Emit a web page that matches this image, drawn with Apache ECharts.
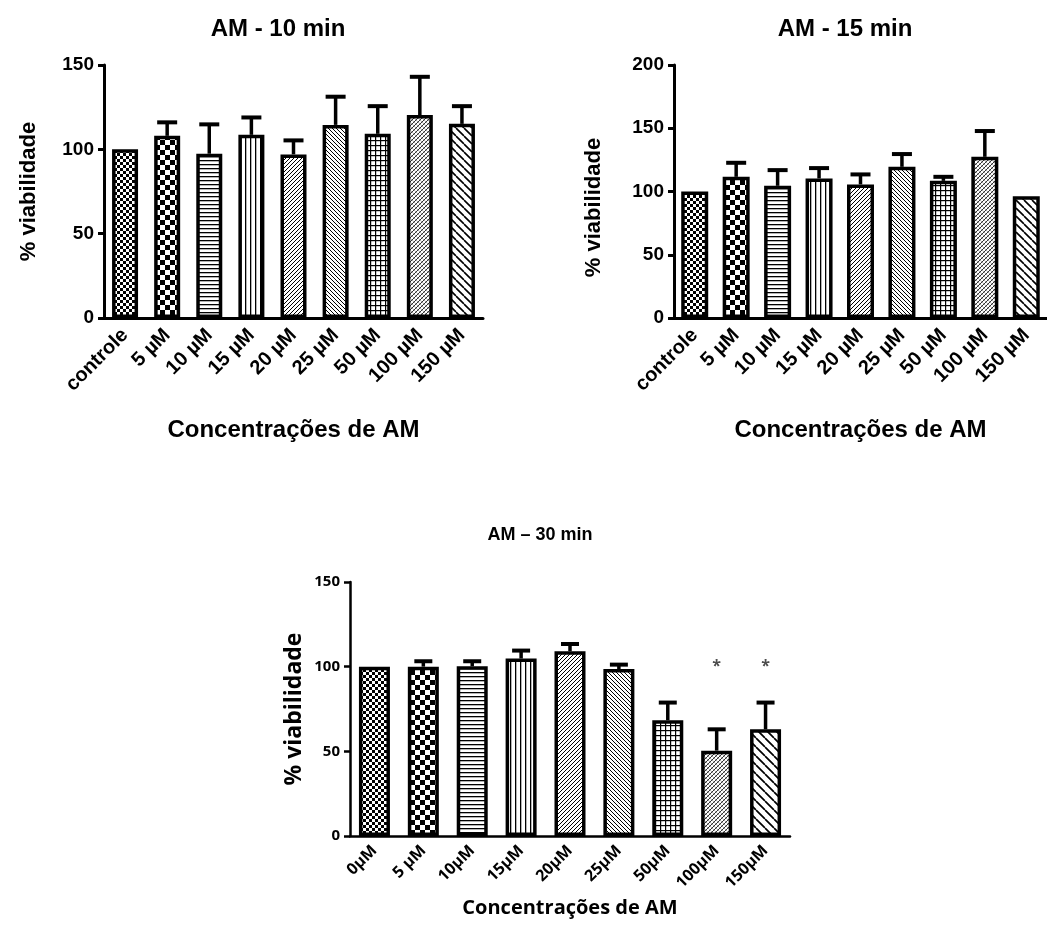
<!DOCTYPE html>
<html>
<head>
<meta charset="utf-8">
<script src="https://cdn.jsdelivr.net/npm/echarts@6/dist/echarts.min.js"></script>
<style>
  html, body { margin: 0; padding: 0; background: #fff; }
  #chart { width: 1047px; height: 931px; }
</style>
</head>
<body>
<div id="chart"></div>
<script>
// ---------- DATA ----------
const categorias10 = ['controle', '5 µM', '10 µM', '15 µM', '20 µM', '25 µM', '50 µM', '100 µM', '150 µM'];
const media10 = [100, 108, 97.4, 108.6, 97, 114.5, 109.2, 120.3, 115.1];
const erro10  = [0, 8, 17.4, 10.3, 8.3, 16.7, 16.4, 22.7, 10.5];

const categorias15 = ['controle', '5 µM', '10 µM', '15 µM', '20 µM', '25 µM', '50 µM', '100 µM', '150 µM'];
const media15 = [100, 111.6, 104.5, 110.3, 105.6, 119.5, 108.4, 127.4, 96.3];
const erro15  = [0, 11.1, 12.4, 8.2, 7.9, 10.1, 3.2, 20.4, 0];

const categorias30 = ['0µM', '5 µM', '10µM', '15µM', '20µM', '25µM', '50µM', '100µM', '150µM'];
const media30 = [100, 100, 100.2, 104.8, 109.1, 98.6, 68.3, 50.4, 63];
const erro30  = [0, 3.2, 3, 4.7, 4.3, 2.6, 10.5, 12.6, 15.8];
const significancia30 = ['', '', '', '', '', '', '', '*', '*'];
const alturaAsterisco = 100;

const ticksY10 = [0, 50, 100, 150];
const ticksY15 = [0, 50, 100, 150, 200];
const ticksY30 = [0, 50, 100, 150];

// ---------- PATTERNS (styles) ----------
function canvasPattern(w, h, draw) {
  const c = document.createElement('canvas');
  c.width = w; c.height = h;
  const ctx = c.getContext('2d');
  ctx.fillStyle = '#fff';
  ctx.fillRect(0, 0, w, h);
  draw(ctx, w, h);
  return { image: c, repeat: 'repeat' };
}
function diag(ctx, s, dir, lw, color) {
  ctx.strokeStyle = color || '#000';
  ctx.lineWidth = lw;
  ctx.beginPath();
  for (const k of [-s, 0, s]) {
    if (dir === 'down') { ctx.moveTo(k, 0); ctx.lineTo(k + s, s); }
    else { ctx.moveTo(k, s); ctx.lineTo(k + s, 0); }
  }
  ctx.stroke();
}
const padroes = [
  canvasPattern(6, 6, (ctx) => { ctx.fillStyle = '#000'; ctx.fillRect(0, 0, 3, 3); ctx.fillRect(3, 3, 3, 3); }),
  canvasPattern(10, 10, (ctx) => { ctx.fillStyle = '#000'; ctx.fillRect(0, 0, 5, 5); ctx.fillRect(5, 5, 5, 5); }),
  canvasPattern(4, 4, (ctx) => { ctx.fillStyle = '#000'; ctx.fillRect(0, 0, 4, 1.3); }),
  canvasPattern(5, 5, (ctx) => { ctx.fillStyle = '#000'; ctx.fillRect(0, 0, 1.3, 5); }),
  canvasPattern(4, 4, (ctx, w) => diag(ctx, w, 'up', 1, '#000')),
  canvasPattern(4, 4, (ctx, w) => diag(ctx, w, 'down', 1, '#000')),
  canvasPattern(5, 5, (ctx) => { ctx.fillStyle = '#000'; ctx.fillRect(0, 0, 5, 1.2); ctx.fillRect(0, 0, 1.2, 5); }),
  canvasPattern(4, 4, (ctx, w) => { diag(ctx, w, 'up', 1, '#333'); diag(ctx, w, 'down', 0.7, '#888'); }),
  canvasPattern(8, 8, (ctx, w) => diag(ctx, w, 'down', 1.6, '#000'))
];
const padroes30 = padroes.slice(0, 8).concat([
  canvasPattern(9, 9, (ctx, w) => diag(ctx, w, 'down', 1.7, '#000'))
]);

// ---------- HELPERS ----------
function barData(vals, pats) {
  return vals.map((v, i) => ({ value: v, itemStyle: { color: pats[i] } }));
}
function errData(vals, errs) {
  return vals.map((v, i) => [i, v, errs[i]]);
}
function errRender(capW, lw) {
  return function (params, api) {
    const x = api.value(0), m = api.value(1), e = api.value(2);
    if (!e) return;
    const p0 = api.coord([x, m]);
    const p1 = api.coord([x, m + e]);
    return {
      type: 'group',
      children: [
        { type: 'line', shape: { x1: p0[0], y1: p0[1], x2: p1[0], y2: p1[1] }, style: { stroke: '#000', lineWidth: lw } },
        { type: 'line', shape: { x1: p1[0] - capW / 2, y1: p1[1], x2: p1[0] + capW / 2, y2: p1[1] }, style: { stroke: '#000', lineWidth: lw + 0.5 } }
      ]
    };
  };
}

const fTop = 'Liberation Sans, Arial, sans-serif';
const fBot = 'Open Sans, Noto Sans, sans-serif';

function xAxisCfg(idx, cats, font, fs, lw, nameFs, nameGap, nameFont, margin) {
  return {
    type: 'category', gridIndex: idx, data: cats,
    axisLine: { lineStyle: { color: '#000', width: lw } },
    axisTick: { alignWithLabel: true, length: 6, lineStyle: { color: '#000', width: lw } },
    axisLabel: { interval: 0, rotate: 45, color: '#000', fontFamily: font, fontWeight: 'bold', fontSize: fs, margin: margin },
    name: 'Concentrações de AM', nameLocation: 'middle', nameGap: nameGap,
    nameTextStyle: { color: '#000', fontFamily: nameFont, fontWeight: 'bold', fontSize: nameFs }
  };
}
function yAxisCfg(idx, max, font, fs, lw, nameFs, nameGap, namePad) {
  return {
    type: 'value', gridIndex: idx, min: 0, max: max, interval: 50,
    axisLine: { show: true, lineStyle: { color: '#000', width: lw } },
    axisTick: { show: true, length: 6, lineStyle: { color: '#000', width: lw } },
    axisLabel: { color: '#000', fontFamily: font, fontWeight: 'bold', fontSize: fs, margin: 10 },
    splitLine: { show: false },
    name: '% viabilidade', nameLocation: 'middle', nameRotate: 90, nameGap: nameGap,
    nameTextStyle: { color: '#000', fontFamily: font, fontWeight: 'bold', fontSize: nameFs, padding: namePad }
  };
}

const chart = echarts.init(document.getElementById('chart'), null, { renderer: 'canvas' });
chart.setOption({
  backgroundColor: '#fff',
  animation: false,
  title: [
    { text: 'AM - 10 min', left: 273, top: 12, textAlign: 'center', textStyle: { fontFamily: fTop, fontWeight: 'bold', fontSize: 24, color: '#000' } },
    { text: 'AM - 15 min', left: 840, top: 12, textAlign: 'center', textStyle: { fontFamily: fTop, fontWeight: 'bold', fontSize: 24, color: '#000' } },
    { text: 'AM – 30 min', left: 535, top: 521, textAlign: 'center', textStyle: { fontFamily: fTop, fontWeight: 'bold', fontSize: 18, color: '#000' } }
  ],
  grid: [
    { left: 104, top: 65, width: 379, height: 253 },
    { left: 674, top: 65, width: 380, height: 253 },
    { left: 350, top: 582, width: 440, height: 254 }
  ],
  xAxis: [
    xAxisCfg(0, categorias10, fTop, 20, 3, 24, 100, fTop, 14),
    xAxisCfg(1, categorias15, fTop, 20, 3, 24, 100, fTop, 14),
    xAxisCfg(2, categorias30, fBot, 16, 2.5, 20, 62, fBot, 12)
  ],
  yAxis: [
    yAxisCfg(0, 150, fTop, 19, 3, 22, 64, 0),
    yAxisCfg(1, 200, fTop, 19, 3, 22, 69, [0, 32, 0, 0]),
    yAxisCfg(2, 150, fBot, 15, 2.5, 23, 44, 0)
  ],
  series: [
    { type: 'bar', xAxisIndex: 0, yAxisIndex: 0, barWidth: 26, data: barData(media10, padroes),
      itemStyle: { borderColor: '#000', borderWidth: 3.5 } },
    { type: 'custom', xAxisIndex: 0, yAxisIndex: 0, z: 5, renderItem: errRender(20, 3.5), data: errData(media10, erro10) },
    { type: 'bar', xAxisIndex: 1, yAxisIndex: 1, barWidth: 27, data: barData(media15, padroes),
      itemStyle: { borderColor: '#000', borderWidth: 3.5 } },
    { type: 'custom', xAxisIndex: 1, yAxisIndex: 1, z: 5, renderItem: errRender(20, 3.5), data: errData(media15, erro15) },
    { type: 'bar', xAxisIndex: 2, yAxisIndex: 2, barWidth: 31, data: barData(media30, padroes30),
      itemStyle: { borderColor: '#000', borderWidth: 3.5 } },
    { type: 'custom', xAxisIndex: 2, yAxisIndex: 2, z: 5, renderItem: errRender(18, 3.5), data: errData(media30, erro30) },
    { type: 'scatter', xAxisIndex: 2, yAxisIndex: 2, symbolSize: 0, z: 6,
      data: significancia30.map((s, i) => s ? { value: [i, alturaAsterisco], label: { formatter: s } } : null).filter(Boolean),
      label: { show: true, position: 'inside', color: '#222', fontSize: 16, fontFamily: fBot, fontWeight: 'bold' } }
  ]
});
</script>
</body>
</html>
